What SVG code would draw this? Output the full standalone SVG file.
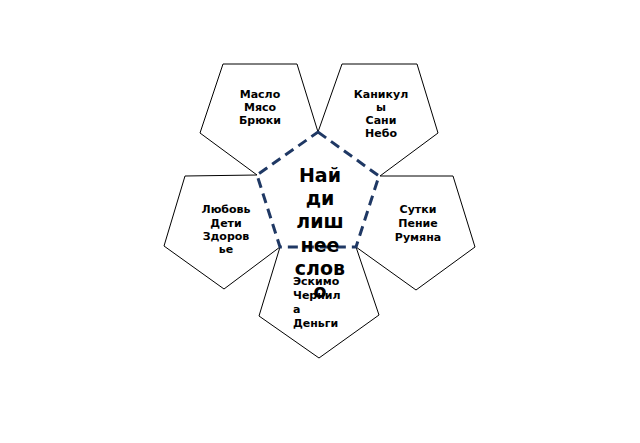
<svg xmlns="http://www.w3.org/2000/svg" width="640" height="443" viewBox="0 0 640 443">
<style>
.petal{fill:#fff;stroke:#000;stroke-width:1}
.core{fill:#fff;stroke:#1F3864;stroke-width:3;stroke-dasharray:10 6}
.t{font-family:"DejaVu Sans",sans-serif;font-weight:bold;font-size:11px;fill:#000;text-anchor:middle}
.tl{text-anchor:start}
.big{font-family:"DejaVu Sans",sans-serif;font-weight:bold;font-size:19px;fill:#000;text-anchor:middle}
</style>
<rect width="640" height="443" fill="#fff"/>
<g id="petal-top-left">
<polygon class="petal" points="257,175 318,132 297,64 223,64 200,133" style="stroke-dasharray:0 75 1000"/>
<text class="t" x="260" y="98">Масло</text>
<text class="t" x="260" y="111">Мясо</text>
<text class="t" x="260" y="124">Брюки</text>
</g>
<g id="petal-top-right">
<polygon class="petal" points="318,132 380,176 438,133 417,64 342,64" style="stroke-dasharray:0 76 1000"/>
<text class="t" x="381" y="98">Каникул</text>
<text class="t" x="381" y="111">ы</text>
<text class="t" x="381" y="124">Сани</text>
<text class="t" x="381" y="137">Небо</text>
</g>
<g id="petal-left">
<polygon class="petal" points="257,175 280,247 224,289 164,246 185,176" style="stroke-dasharray:0 76 1000"/>
<text class="t" x="226" y="213">Любовь</text>
<text class="t" x="226" y="227">Дети</text>
<text class="t" x="226" y="240">Здоров</text>
<text class="t" x="226" y="253">ье</text>
</g>
<g id="petal-right">
<polygon class="petal" points="380,176 356,247 416,290 475,247 453,176" style="stroke-dasharray:0 75 1000"/>
<text class="t" x="418" y="213">Сутки</text>
<text class="t" x="418" y="227">Пение</text>
<text class="t" x="418" y="241">Румяна</text>
</g>
<g id="petal-bottom">
<polygon class="petal" points="280,247 356,247 379,315 319,358 259,316" style="stroke-dasharray:0 76 1000"/>
</g>
<g id="connectors">
<polygon class="core" points="318,132 379,176 356,247 280,247 257,175"/>
</g>
<g id="petal-bottom-text">
<text class="t tl" x="293" y="285">Эскимо</text>
<text class="t tl" x="293" y="299">Чернил</text>
<text class="t tl" x="293" y="313">а</text>
<text class="t tl" x="293" y="327">Деньги</text>
</g>
<g id="center">
<text class="big" x="320" y="182">Най</text>
<text class="big" x="320" y="205">ди</text>
<text class="big" x="320" y="228">лиш</text>
<text class="big" x="320" y="252">нее</text>
<text class="big" x="320" y="275">слов</text>
<text class="big" x="320" y="298">о</text>
</g>
</svg>
